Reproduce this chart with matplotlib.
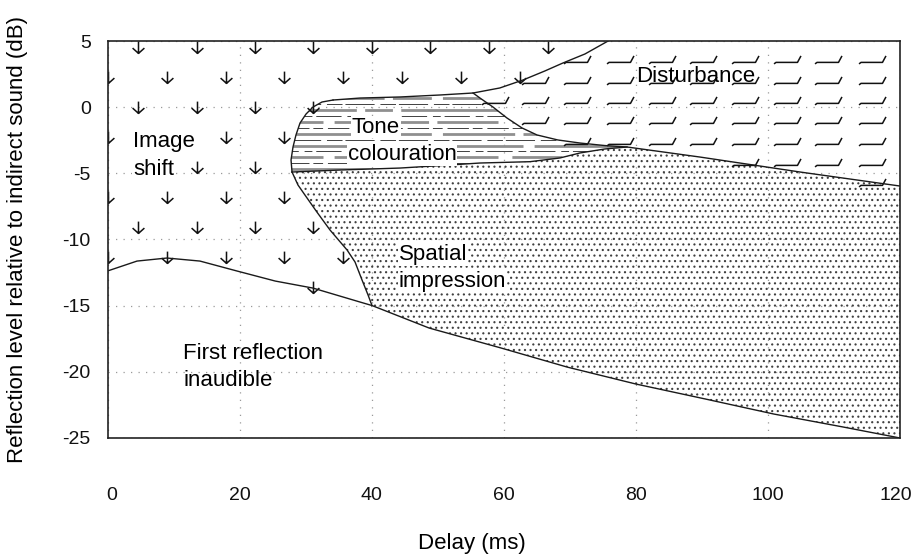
import numpy as np
import matplotlib
matplotlib.use("Agg")
import matplotlib.pyplot as plt
import matplotlib.transforms as mtransforms
from matplotlib.patches import Polygon
from matplotlib.path import Path

plt.rcParams['font.family'] = ['Liberation Sans', 'DejaVu Sans']
plt.rcParams['hatch.linewidth'] = 0.8

# ---------------- data ----------------
# threshold of audibility of the first reflection (lower curve)
inaud_x = [0, 4.47, 9.0, 14.0, 19.6, 25.4, 31.1, 38.2, 40.05, 48.7, 59.6, 69.6, 80.0, 90.5, 100.9, 111.4, 120]
inaud_y = [-12.38, -11.63, -11.40, -11.63, -12.38, -13.14, -13.67, -14.72, -14.99, -16.69, -18.2, -19.64, -20.92, -22.05, -23.19, -24.17, -25]

# left boundary of tone colouration (bottom to top)
tone_left_x = [27.94, 27.79, 28.09, 28.54, 29.15, 30.06, 31.12, 32.48, 34.15]
tone_left_y = [-4.90, -3.99, -3.01, -2.10, -1.20, -0.52, 0.01, 0.39, 0.54]

# upper boundary (tone colouration top / image shift vs disturbance)
upper_x = [34.15, 38.24, 44.29, 50.35, 55.35, 59.4, 62.9, 66.2, 68.97, 72.3, 75.8]
upper_y = [0.54, 0.69, 0.77, 0.92, 1.07, 1.45, 2.05, 2.73, 3.34, 4.02, 5.0]

# boundary between tone colouration and disturbance
second_x = [55.35, 56.4, 58.37, 60.49, 62.76, 65.03, 68.2, 71.55, 75.3, 78.67]
second_y = [1.07, 0.69, 0.01, -0.82, -1.57, -2.10, -2.48, -2.71, -2.90, -3.01]

# upper boundary of spatial impression
stop_x = [27.94, 35.2, 44.29, 51.86, 56.4, 63.97, 68.5, 71.55, 75.3, 78.67, 89.72, 104.86, 120]
stop_y = [-4.90, -4.75, -4.60, -4.37, -4.22, -4.12, -3.84, -3.46, -3.16, -3.01, -3.77, -4.90, -5.96]

# left boundary of spatial impression (top to bottom)
sleft_x = [27.94, 28.84, 29.9, 31.7, 33.69, 36.27, 37.48, 38.54, 39.45, 40.05]
sleft_y = [-4.90, -5.88, -6.64, -7.92, -9.28, -10.79, -11.70, -13.06, -14.19, -14.99]

# pattern positions
arrow_rows_a = [4.55, 0.01, -4.52, -9.06, -13.59]
arrow_cols_a = [4.6, 13.5, 22.3, 31.1, 40.0, 48.9, 57.8, 66.7, 75.6]
arrow_rows_b = [2.28, -2.25, -6.79, -11.32]
arrow_cols_b = [0.1, 9.0, 17.9, 26.8, 35.7, 44.6, 53.5, 62.4, 71.3]
dist_rows = [3.64, 2.09, 0.54, -0.97, -2.56, -4.14, -5.66]
dist_cols = [58.68, 64.73, 71.09, 77.6, 83.96, 90.16, 96.52, 102.9, 109.1, 115.8]

x_ticks = [0, 20, 40, 60, 80, 100, 120]
x_labels = ['0', '20', '40', '60', '80', '100', '120']
y_ticks = [5, 0, -5, -10, -15, -20, -25]
y_labels = ['5', '0', '-5', '-10', '-15', '-20', '-25']

# ---------------- figure ----------------
fig = plt.figure(figsize=(9.14, 5.59), dpi=100)
ax = fig.add_axes([107.5 / 914, 1 - 438 / 559, 792.5 / 914, 397 / 559])
ax.set_xlim(0, 120)
ax.set_ylim(-25, 5)

P = lambda xs, ys: list(zip(xs, ys))
inaud = P(inaud_x, inaud_y)
tleft = P(tone_left_x, tone_left_y)
upper = P(upper_x, upper_y)
second = P(second_x, second_y)
stop = P(stop_x, stop_y)
sleft = P(sleft_x, sleft_y)

tone_poly = tleft + upper[1:5] + second[1:] + stop[8::-1]
dist_poly = upper[4:] + [(120, 5)] + stop[:8:-1] + second[8:0:-1]
spat_poly = stop + [(120, -25)] + inaud[-2:7:-1] + sleft[-2:0:-1]
img_poly = [(0, 5), (75.8, 5)] + upper[-2::-1] + tleft[-2::-1] + sleft[1:] + inaud[7::-1]

# grid
ax.set_xticks(x_ticks)
ax.set_xticklabels(x_labels)
ax.set_yticks(y_ticks)
ax.set_yticklabels(y_labels)
ax.grid(True, color='#9a9a9a', linestyle=(0, (1, 5)), linewidth=0.9)
ax.set_axisbelow(True)

# stipple for spatial impression
sp = Polygon(spat_poly, closed=True, facecolor='none', edgecolor='#404040',
             linewidth=0, hatch='...', zorder=1)
ax.add_patch(sp)

# tone colouration: horizontal dashed lines clipped to region
tp = Polygon(tone_poly, closed=True, facecolor='none', edgecolor='none', zorder=1)
ax.add_patch(tp)
gray_dash = [(40, 3, 14, 4, 26, 3), (18, 4, 34, 3, 22, 5), (30, 3, 10, 3, 44, 4)]
dark_dash = [(10, 5, 22, 4), (26, 6, 8, 4), (16, 3, 30, 6)]
for i, yy in enumerate(np.arange(-4.7, 1.2, 0.45)):
    if i % 2 == 0:
        ln, = ax.plot([25, 82], [yy, yy], color='#8f8f8f', lw=2.0, zorder=1.2)
        ln.set_dashes(gray_dash[(i // 2) % 3])
    else:
        ln, = ax.plot([25, 82], [yy, yy], color='#404040', lw=0.7, zorder=1.3)
        ln.set_dashes(dark_dash[(i // 2) % 3])
    ln.set_dash_capstyle('butt')
    ln.set_clip_path(tp)

# image shift arrows
img_path = Path(img_poly)
arrow_marker = Path([(0, 0.5), (0, -0.5), (-0.5, -0.05), (0, -0.5), (0.5, -0.05)],
                    [Path.MOVETO, Path.LINETO, Path.MOVETO, Path.LINETO, Path.LINETO])
ax_pts = []
for rows, cols in ((arrow_rows_a, arrow_cols_a), (arrow_rows_b, arrow_cols_b)):
    for yy in rows:
        for xx in cols:
            if img_path.contains_point((xx, yy)):
                ax_pts.append((xx, yy))
axx, axy = zip(*ax_pts)
ax.plot(axx, axy, linestyle='none', marker=arrow_marker, markersize=8.5,
        markerfacecolor='none', markeredgecolor='#111111', markeredgewidth=1.1, zorder=2)

# disturbance marks
dist_path = Path(dist_poly)
dist_marker = Path([(-13.5, -4.4), (-11.5, -2.9), (10.0, -2.9), (13.5, 3.6)],
                   [Path.MOVETO, Path.LINETO, Path.LINETO, Path.LINETO])
d_pts = [(xx, yy) for yy in dist_rows for xx in dist_cols if dist_path.contains_point((xx, yy))]
dx, dy = zip(*d_pts)
ax.plot(dx, dy, linestyle='none', marker=dist_marker, markersize=19.4,
        markerfacecolor='none', markeredgecolor='#111111', markeredgewidth=1.1, zorder=2)

# boundary curves
lk = dict(color='#1a1a1a', lw=1.0, zorder=3)
ax.plot(inaud_x, inaud_y, **lk)
ax.plot(tone_left_x, tone_left_y, **lk)
ax.plot(upper_x, upper_y, **lk)
ax.plot(second_x, second_y, **lk)
ax.plot(stop_x, stop_y, **lk)
ax.plot(sleft_x, sleft_y, **lk)

# labels
fs = 16
bb = dict(facecolor='white', edgecolor='none', pad=0.5)
ax.text(3.86, -3.01, 'Image', fontsize=fs, va='baseline', zorder=4, bbox=bb)
ax.text(3.86, -5.13, 'shift', fontsize=fs, va='baseline', zorder=4, bbox=bb)
ax.text(37.0, -1.93, 'Tone', fontsize=fs, va='baseline', zorder=4, bbox=bb)
ax.text(36.4, -3.99, 'colouration', fontsize=fs, va='baseline', zorder=4, bbox=bb)
ax.text(80.1, 1.93, 'Disturbance', fontsize=fs, va='baseline', zorder=4)
ax.text(44.1, -11.55, 'Spatial', fontsize=fs, va='baseline', zorder=4, bbox=bb)
ax.text(44.1, -13.57, 'impression', fontsize=fs, va='baseline', zorder=4, bbox=bb)
ax.text(11.5, -19.03, 'First reflection', fontsize=fs, va='baseline', zorder=4)
ax.text(11.5, -21.05, 'inaudible', fontsize=fs, va='baseline', zorder=4)

for s in ax.spines.values():
    s.set_color('#222222')
    s.set_linewidth(1.2)
    s.set_zorder(5)

ax.tick_params(axis='both', length=0, labelsize=14, colors='#111111')
ax.tick_params(axis='x', pad=35)
ax.tick_params(axis='y', pad=12)

# nudge the outermost x labels inward a little (as in the reference)
xl = ax.get_xticklabels()
xl[0].set_transform(xl[0].get_transform() + mtransforms.ScaledTranslation(4 / 100, 0, fig.dpi_scale_trans))
xl[-1].set_transform(xl[-1].get_transform() + mtransforms.ScaledTranslation(-4 / 100, 0, fig.dpi_scale_trans))

ax.set_xlabel('Delay (ms)', fontsize=16, va='center')
ax.set_ylabel('Reflection level relative to indirect sound (dB)', fontsize=16, va='center')
ax.xaxis.set_label_coords((472 - 107.5) / 792.5, (438 - 544) / 397)
ax.yaxis.set_label_coords((18 - 107.5) / 792.5, 0.5)

fig.savefig('out.png', dpi=100)
